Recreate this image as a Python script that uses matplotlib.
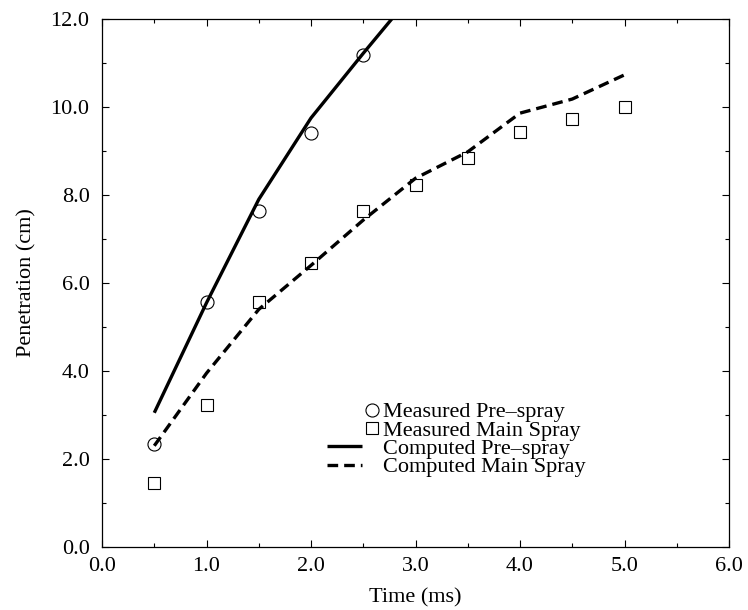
import numpy as np
import matplotlib
matplotlib.use("Agg")
import matplotlib.pyplot as plt
from matplotlib.ticker import MultipleLocator, FormatStrFormatter
from matplotlib.legend_handler import HandlerLine2DCompound

# measured data (ms, cm)
t_meas_pre = [0.5, 1.0, 1.5, 2.0, 2.5]
pen_meas_pre = [2.34, 5.57, 7.64, 9.40, 11.18]

t_meas_main = [0.5, 1.0, 1.5, 2.0, 2.5, 3.0, 3.5, 4.0, 4.5, 5.0]
pen_meas_main = [1.45, 3.23, 5.57, 6.45, 7.64, 8.23, 8.84, 9.43, 9.73, 10.0]

# computed curves
t_comp_pre = [0.5, 1.0, 1.5, 2.0, 2.5, 3.0]
pen_comp_pre = [3.05, 5.55, 7.90, 9.75, 11.22, 12.65]

t_comp_main = [0.5, 1.0, 1.5, 2.0, 2.5, 3.0, 3.5, 4.0, 4.5, 5.0]
pen_comp_main = [2.30, 3.95, 5.40, 6.40, 7.43, 8.38, 8.98, 9.86, 10.18, 10.73]


class RightMarker(HandlerLine2DCompound):
    # put the marker just right of the handle, like the original legend
    def get_xdata(self, legend, xdescent, ydescent, width, height, fontsize):
        xdata, _ = super().get_xdata(legend, xdescent, ydescent, width, height, fontsize)
        return xdata, np.array([-xdescent + width + 0.42 * fontsize])


plt.rcParams['font.family'] = ['Liberation Serif', 'DejaVu Serif']
plt.rcParams['font.size'] = 16

fig = plt.figure(figsize=(7.48, 6.10), dpi=100)
ax = fig.add_axes([0.1364, 0.1033, 0.8382, 0.8656])

ax.plot(t_comp_pre, pen_comp_pre, color='black', lw=2.4, solid_capstyle='butt',
        label='Computed Pre\u2013spray')
ax.plot(t_comp_main, pen_comp_main, color='black', lw=2.4, linestyle=(0, (3.2, 1.8)),
        label='Computed Main Spray')
h1, = ax.plot(t_meas_pre, pen_meas_pre, linestyle='none', marker='o', ms=9.4,
              mfc='none', mec='black', mew=0.8, label='Measured Pre\u2013spray')
h2, = ax.plot(t_meas_main, pen_meas_main, linestyle='none', marker='s', ms=9.0,
              mfc='none', mec='black', mew=0.8, label='Measured Main Spray')

ax.set_xlim(0, 6)
ax.set_ylim(0, 12)
ax.xaxis.set_major_locator(MultipleLocator(1.0))
ax.xaxis.set_minor_locator(MultipleLocator(0.5))
ax.yaxis.set_major_locator(MultipleLocator(2.0))
ax.yaxis.set_minor_locator(MultipleLocator(1.0))
ax.xaxis.set_major_formatter(FormatStrFormatter('%.1f'))
ax.yaxis.set_major_formatter(FormatStrFormatter('%.1f'))
ax.tick_params(which='both', direction='in', top=True, right=True, width=0.8)
ax.tick_params(which='major', length=5)
ax.tick_params(axis='x', which='major', pad=7)
ax.tick_params(axis='y', which='major', pad=9)
ax.tick_params(which='minor', length=3)
for s in ax.spines.values():
    s.set_linewidth(0.9)

ax.set_xlabel('Time (ms)', labelpad=9)
ax.set_ylabel('Penetration (cm)', labelpad=10)

lines = ax.get_lines()
handles = [h1, h2, lines[0], lines[1]]
ax.legend(handles, [h.get_label() for h in handles], loc='upper left',
          bbox_to_anchor=(0.359, 0.275), frameon=False, borderpad=0,
          borderaxespad=0, handlelength=1.58, handletextpad=0.95,
          labelspacing=-0.1, numpoints=1,
          handler_map={h1: RightMarker(), h2: RightMarker()})

fig.savefig('out.png', dpi=100)
